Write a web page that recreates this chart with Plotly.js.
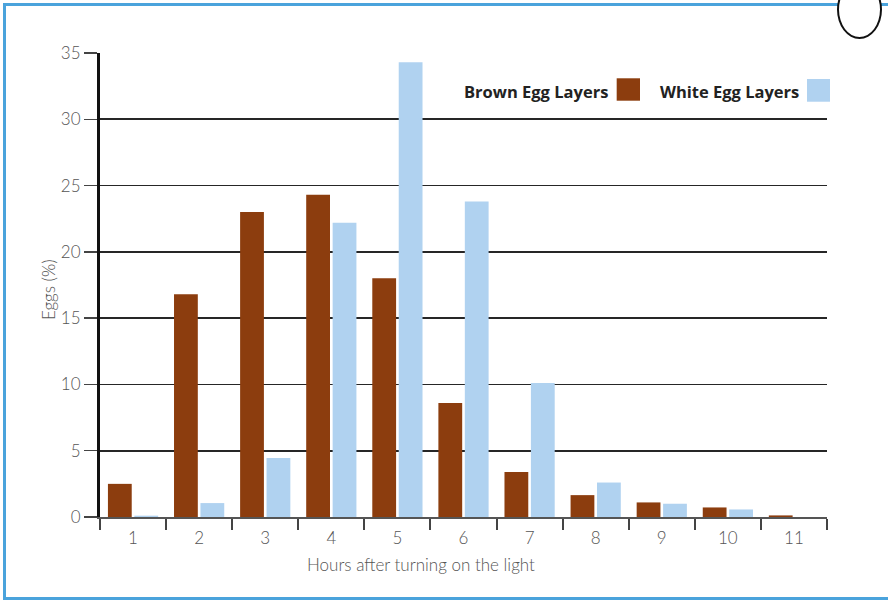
<!DOCTYPE html>
<html>
<head>
<meta charset="utf-8">
<script src="https://cdn.plot.ly/plotly-3.0.1.min.js"></script>
<style>
  html, body { margin: 0; padding: 0; background: #fff; }
  #wrap { position: relative; width: 888px; height: 602px; overflow: hidden; }
  #chart { position: absolute; left: 0; top: 0; width: 888px; height: 602px; }
  #frame { position: absolute; left: 3px; top: 3px; width: 900px; height: 591px;
           border: 3px solid #4aa3dc; pointer-events: none; }
  #blob { position: absolute; left: 837px; top: -20px; width: 41px; height: 55px;
          border: 2px solid #111; border-radius: 50%; background: #fff; pointer-events: none; }
</style>
</head>
<body>
<div id="wrap">
  <div id="chart"></div>
  <div id="frame"></div>
  <div id="blob"></div>
</div>
<script>
const hours = ['1','2','3','4','5','6','7','8','9','10','11'];
const brownEgg = [2.5, 16.8, 23.0, 24.3, 18.0, 8.6, 3.4, 1.65, 1.1, 0.72, 0.12];
const whiteEgg = [0.1, 1.05, 4.45, 22.2, 34.3, 23.8, 10.1, 2.6, 1.0, 0.57, 0];
const seriesNames = ['Brown Egg Layers', 'White Egg Layers'];
const brownColor = '#8c3d0e';
const whiteColor = '#b0d2f0';
const yTicks = [0, 5, 10, 15, 20, 25, 30, 35];

const traces = [
  { type: 'bar', x: hours, y: brownEgg, name: seriesNames[0], marker: { color: brownColor }, hoverinfo: 'y' },
  { type: 'bar', x: hours, y: whiteEgg, name: seriesNames[1], marker: { color: whiteColor }, hoverinfo: 'y' }
];

const lightFamily = 'Lato, "Open Sans", sans-serif';
const tickFont = { family: lightFamily, size: 17, color: '#555', weight: 300 };
const legFont = { family: '"Open Sans", Lato, sans-serif', size: 16.5, color: '#222', weight: 'bold' };

const layout = {
  width: 888, height: 602,
  margin: { l: 100, r: 61, t: 53, b: 85 },
  paper_bgcolor: '#fff', plot_bgcolor: '#fff',
  showlegend: false,
  barmode: 'group', bargap: 0.2, bargroupgap: 0.1,
  xaxis: {
    type: 'category',
    tickson: 'boundaries',
    ticks: 'outside', ticklen: 11, tickwidth: 2, tickcolor: '#444',
    showline: true, linecolor: '#555', linewidth: 2,
    showgrid: false, zeroline: false,
    ticklabelstandoff: 5,
    tickfont: tickFont
  },
  yaxis: {
    range: [0, 35],
    tickvals: yTicks,
    ticks: 'outside', ticklen: 13, tickwidth: 1.5, tickcolor: '#444',
    showline: true, linecolor: '#111', linewidth: 3,
    showgrid: true, gridcolor: '#262626', gridwidth: 1.6,
    zeroline: false,
    tickfont: tickFont
  },
  annotations: [
    { text: 'Eggs (%)', xref: 'paper', yref: 'paper', x: -0.0715, y: 0.489,
      xanchor: 'center', yanchor: 'middle', textangle: -90, showarrow: false,
      font: { family: lightFamily, size: 17, color: '#555', weight: 300 } },
    { text: 'Hours after turning on the light', xref: 'paper', yref: 'paper', x: 0.4415, y: -0.1034,
      xanchor: 'center', yanchor: 'middle', showarrow: false,
      font: { family: lightFamily, size: 17, color: '#555', weight: 300 } },
    { text: '<b>' + seriesNames[0] + '</b>', xref: 'paper', yref: 'paper', x: 0.7015, y: 0.918,
      xanchor: 'right', yanchor: 'middle', showarrow: false, font: legFont },
    { text: '<b>' + seriesNames[1] + '</b>', xref: 'paper', yref: 'paper', x: 0.9642, y: 0.918,
      xanchor: 'right', yanchor: 'middle', showarrow: false, font: legFont }
  ],
  shapes: [
    { type: 'rect', xref: 'paper', yref: 'paper', x0: 0.7107, x1: 0.7428, y0: 0.8972, y1: 0.9455,
      fillcolor: brownColor, line: { width: 0 } },
    { type: 'rect', xref: 'paper', yref: 'paper', x0: 0.9725, x1: 1.0041, y0: 0.895, y1: 0.944,
      fillcolor: whiteColor, line: { width: 0 } }
  ]
};

Plotly.newPlot('chart', traces, layout, { displayModeBar: false, staticPlot: true });
</script>
</body>
</html>
